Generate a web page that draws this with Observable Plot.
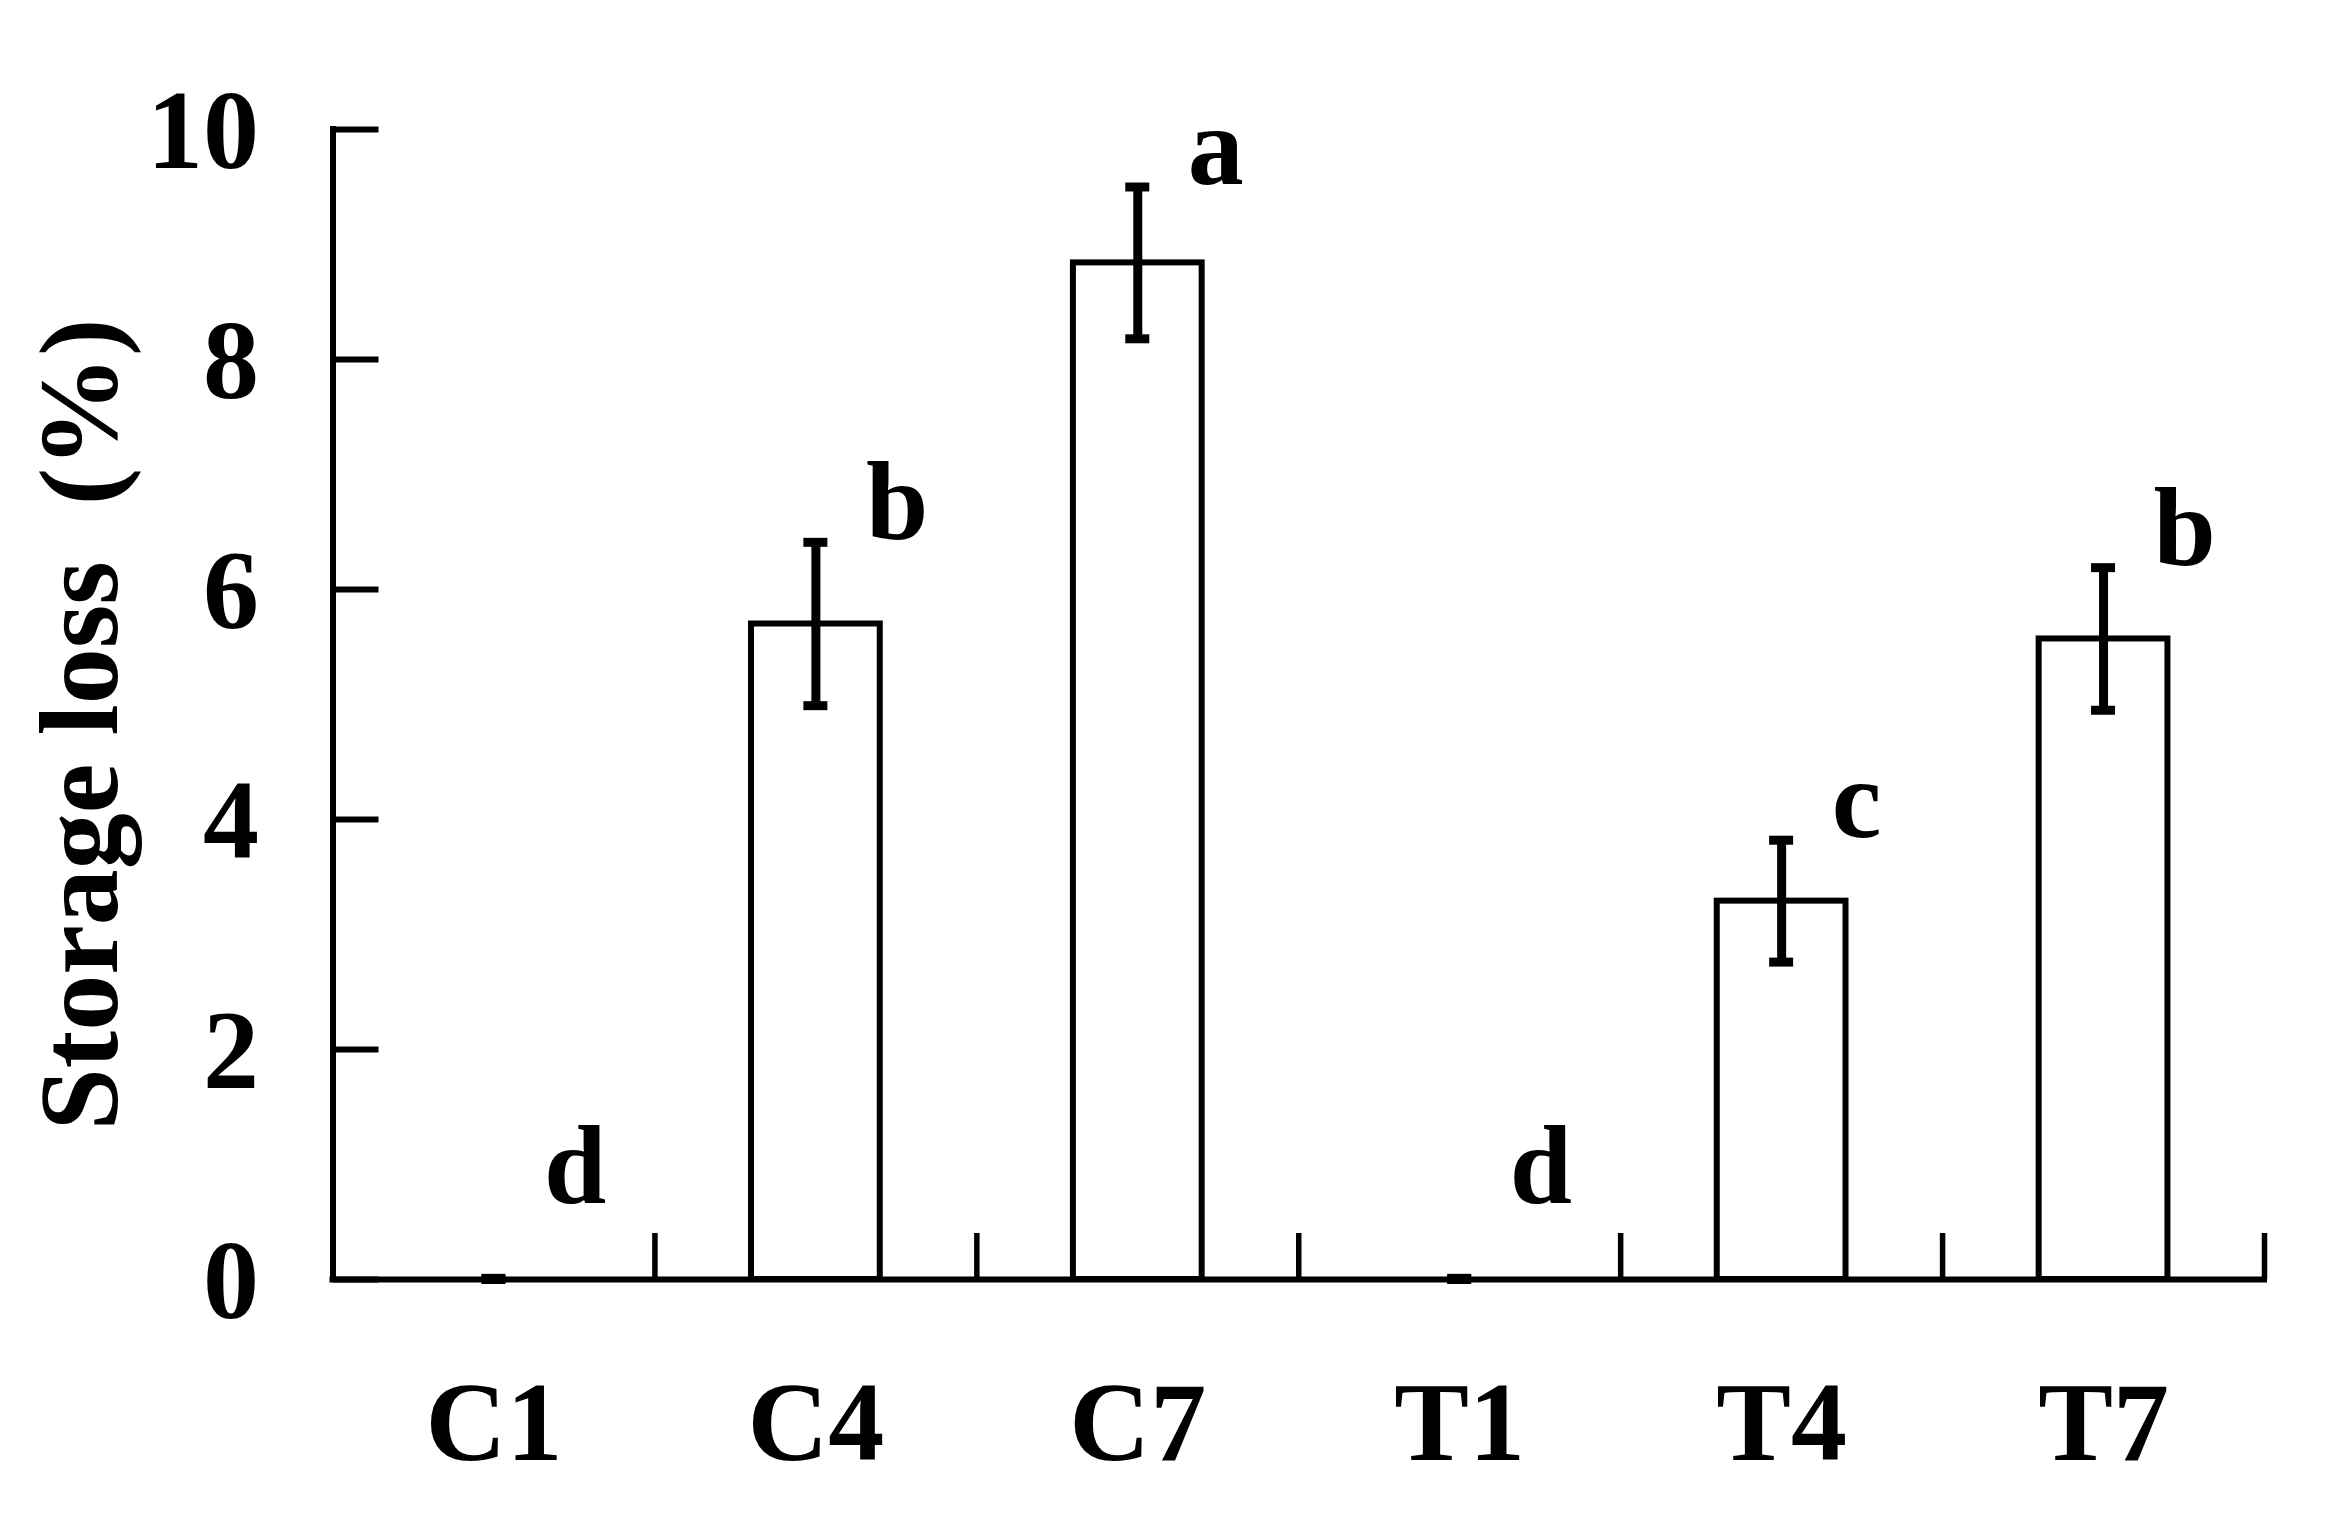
<!DOCTYPE html>
<html>
<head>
<meta charset="utf-8">
<script src="https://cdn.jsdelivr.net/npm/d3@7"></script>
<script src="https://cdn.jsdelivr.net/npm/@observablehq/plot@0.6"></script>
<style>
  html, body { margin: 0; padding: 0; background: #fff; }
  #chart svg { display: block; }
</style>
</head>
<body>
<div id="chart"></div>
<script>
// ---- data ----
const categories = ["C1", "C4", "C7", "T1", "T4", "T7"];
const means      = [0, 5.70, 8.84, 0, 3.29, 5.57];
const sds        = [0.01, 0.71, 0.66, 0.01, 0.53, 0.62];
const letters    = ["d", "b", "a", "d", "c", "b"];
const yTicks     = [0, 2, 4, 6, 8, 10];
const yTitle     = "Storage loss \u00a0(%)";

const data = categories.map((cat, i) => ({cat, i, mean: means[i], sd: sds[i], letter: letters[i]}));
const boundaries = categories.map((c, i) => i + 1);

const font = {fontFamily: "'Liberation Serif', 'Times New Roman', serif", fontWeight: "bold", fontSize: 112, fill: "black"};
const half = 0.2; // half bar width in category units

const chart = Plot.plot({
  width: 2328,
  height: 1533,
  marginLeft: 332.5,
  marginRight: 64,
  marginTop: 129,
  marginBottom: 254,
  x: {domain: [0, categories.length], axis: null},
  y: {domain: [0, 10], axis: null},
  style: {background: "white"},
  marks: [
    // bars
    Plot.rect(data, {
      x1: d => d.i + 0.5 - half, x2: d => d.i + 0.5 + half,
      y1: 0, y2: "mean",
      fill: "white", stroke: "black", strokeWidth: 6
    }),
    // error bars
    Plot.ruleX(data, {
      x: d => d.i + 0.5,
      y1: d => Math.max(0, d.mean - d.sd), y2: d => d.mean + d.sd,
      stroke: "black", strokeWidth: 9
    }),
    Plot.ruleY(data, {
      y: d => d.mean + d.sd, x1: d => d.i + 0.5, x2: d => d.i + 0.5,
      insetLeft: -12, insetRight: -12, stroke: "black", strokeWidth: 9
    }),
    Plot.ruleY(data, {
      y: d => Math.max(0, d.mean - d.sd), x1: d => d.i + 0.5, x2: d => d.i + 0.5,
      insetLeft: -12, insetRight: -12, stroke: "black", strokeWidth: 9
    }),
    // axis lines
    Plot.ruleY([0], {stroke: "black", strokeWidth: 6, strokeLinecap: "square"}),
    Plot.ruleX([0], {y1: 0, y2: 10, stroke: "black", strokeWidth: 6, strokeLinecap: "square"}),
    // y ticks (inward)
    Plot.ruleY(yTicks, {x1: 0, x2: 0, insetRight: -46, stroke: "black", strokeWidth: 6}),
    // x category boundary ticks (inward)
    Plot.ruleX(boundaries, {y1: 0, y2: 0, insetBottom: 46, stroke: "black", strokeWidth: 5.5}),
    // y tick labels
    Plot.text(yTicks, {
      x: 0, y: d => d, text: d => String(d),
      textAnchor: "end", lineAnchor: "middle", dx: -74, dy: 3, ...font
    }),
    // x category labels
    Plot.text(data, {
      x: d => d.i + 0.5, y: 0, text: "cat",
      textAnchor: "middle", lineAnchor: "bottom", dy: 180, ...font
    }),
    // significance letters
    Plot.text(data.filter(d => d.mean > 0), {
      x: d => d.i + 0.5, y: d => d.mean + d.sd, text: "letter",
      textAnchor: "start", lineAnchor: "bottom", dx: 50, dy: -3, ...font
    }),
    Plot.text(data.filter(d => d.mean === 0), {
      x: d => d.i + 0.5, y: d => d.mean + d.sd, text: "letter",
      textAnchor: "start", lineAnchor: "bottom", dx: 50, dy: -75, ...font
    }),
    // y-axis title
    Plot.text([yTitle], {
      frameAnchor: "left", text: d => d, rotate: -90,
      textAnchor: "middle", lineAnchor: "bottom", dx: -216, dy: 20, ...font
    })
  ]
});

document.getElementById("chart").appendChild(chart);
</script>
</body>
</html>
